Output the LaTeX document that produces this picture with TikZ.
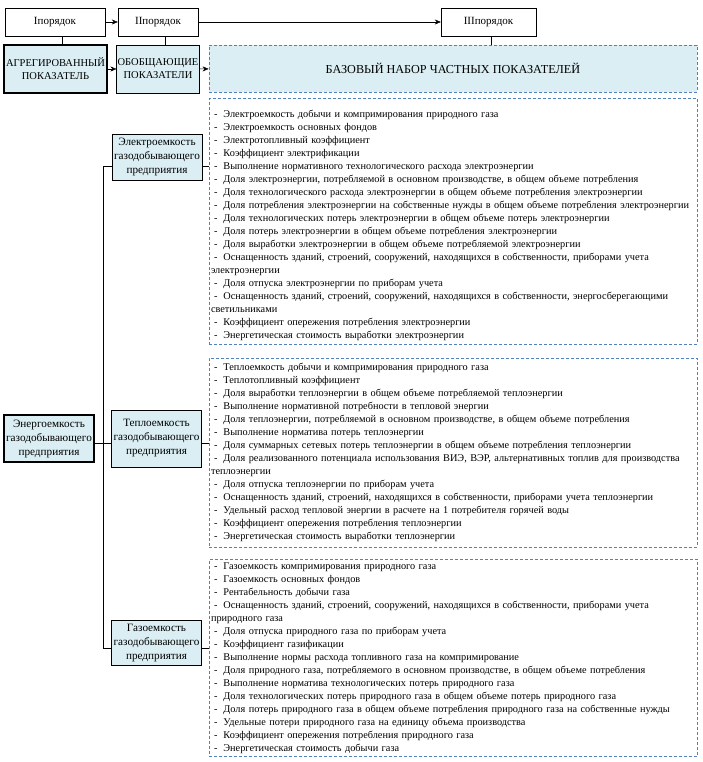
\documentclass[tikz,border=0pt]{standalone}
\usepackage{fontspec}
\setmainfont{Liberation Serif}
\usepackage{tikz}
\usetikzlibrary{arrows.meta,positioning}
\definecolor{boxfill}{HTML}{DAEEF3}
\definecolor{dashblue}{HTML}{4F81BD}
\newcommand{\itm}[1]{\leavevmode\rlap{\hspace*{3pt}-\hspace*{6pt}#1}}
\newcommand{\cont}[1]{\leavevmode\rlap{#1}}
\tikzset{
>={Stealth[length=6pt,width=5pt]}, % arrow heads
orderbox/.style={draw, minimum height=28, inner sep=1pt, font=\fontsize{11}{13}\selectfont},
levelbox/.style={draw, fill=boxfill, minimum height=48, inner sep=1pt, align=center, font=\fontsize{10.5}{13}\selectfont},
catbox/.style={draw, fill=boxfill, minimum width=90, inner sep=1pt, align=center, font=\fontsize{11.2}{14}\selectfont},
dashbox/.style={draw=dashblue, dash pattern=on 3pt off 2pt, line width=0.8pt, minimum width=488},
listbox/.style={dashbox, inner xsep=2pt, text width=484, align=left, font=\fontsize{10.3}{13}\selectfont}
}
\begin{document}
\begin{tikzpicture}[x=1pt,y=-1pt]
    \useasboundingbox (0,0) rectangle (703,762);
    % orders
    \node[orderbox, minimum width=100] (ord1) at (55,22) {Iпорядок};
    \node[orderbox, minimum width=80] (ord2) at (158,22) {IIпорядок};
    \node[orderbox, minimum width=95] (ord3) at (488.5,22) {IIIпорядок};
    \node[levelbox, minimum width=103, line width=2.2pt] (agg) at (55.5,69) {АГРЕГИРОВАННЫЙ\\ПОКАЗАТЕЛЬ};
    \node[levelbox, minimum width=80] (gen) at (158,69) {ОБОБЩАЮЩИЕ\\ПОКАЗАТЕЛИ};
    \node[dashbox, fill=boxfill, minimum height=47, font=\fontsize{12.2}{15}\selectfont] (base) at (453,68.5) {БАЗОВЫЙ НАБОР ЧАСТНЫХ ПОКАЗАТЕЛЕЙ};
    \draw[->] (ord1) -- (ord2);
    \draw[->] (ord2) -- (ord3);
    \draw[->] (agg) -- (gen);
    \draw[->] (gen) -- (base);
    \draw ([xshift=7]ord1.south) -- ([xshift=7]ord1.south |- agg.north);
    \draw ([xshift=7]ord2.south) -- ([xshift=7]ord2.south |- gen.north);
    \draw ([xshift=3]ord3.south) -- ([xshift=3]ord3.south |- base.north);
    % indicators
    \node[catbox, line width=2.2pt, minimum width=90, minimum height=47] (energy) at (49,438.5) {Энергоемкость\\газодобывающего\\предприятия};
    \node[catbox, minimum height=46] (elec) at (157,157) {Электроемкость\\газодобывающего\\предприятия};
    \node[catbox, minimum height=57] (heat) at (156.5,438.5) {Теплоемкость\\газодобывающего\\предприятия};
    \node[catbox, minimum height=45] (gas) at (156.5,643) {Газоемкость\\газодобывающего\\предприятия};
    % lists
    \node[listbox, minimum height=245] (elist) at (453,221.5) {%
    \mbox{}\\[3pt]
    \itm{Электроемкость добычи и компримирования природного газа}\\
    \itm{Электроемкость основных фондов}\\
    \itm{Электротопливный коэффициент}\\
    \itm{Коэффициент электрификации}\\
    \itm{Выполнение нормативного технологического расхода электроэнергии}\\
    \itm{Доля электроэнергии, потребляемой в основном производстве, в общем объеме потребления}\\
    \itm{Доля технологического расхода электроэнергии в общем объеме потребления электроэнергии}\\
    \itm{Доля потребления электроэнергии на собственные нужды в общем объеме потребления электроэнергии}\\
    \itm{Доля технологических потерь электроэнергии в общем объеме потерь электроэнергии}\\
    \itm{Доля потерь электроэнергии в общем объеме потребления электроэнергии}\\
    \itm{Доля выработки электроэнергии в общем объеме потребляемой электроэнергии}\\
    \itm{Оснащенность зданий, строений, сооружений, находящихся в собственности, приборами учета}\\
    \cont{электроэнергии}\\
    \itm{Доля отпуска электроэнергии по приборам учета}\\
    \itm{Оснащенность зданий, строений, сооружений, находящихся в собственности, энергосберегающими}\\
    \cont{светильниками}\\
    \itm{Коэффициент опережения потребления электроэнергии}\\
    \itm{Энергетическая стоимость выработки электроэнергии}};
    \node[listbox, minimum height=189] (hlist) at (453,452.5) {%
    \itm{Теплоемкость добычи и компримирования природного газа}\\
    \itm{Теплотопливный коэффициент}\\
    \itm{Доля выработки теплоэнергии в общем объеме потребляемой теплоэнергии}\\
    \itm{Выполнение нормативной потребности в тепловой энергии}\\
    \itm{Доля теплоэнергии, потребляемой в основном производстве, в общем объеме потребления}\\
    \itm{Выполнение норматива потерь теплоэнергии}\\
    \itm{Доля суммарных сетевых потерь теплоэнергии в общем объеме потребления теплоэнергии}\\
    \itm{Доля реализованного потенциала использования ВИЭ, ВЭР, альтернативных топлив для производства}\\
    \cont{теплоэнергии}\\
    \itm{Доля отпуска теплоэнергии по приборам учета}\\
    \itm{Оснащенность зданий, строений, находящихся в собственности, приборами учета теплоэнергии}\\
    \itm{Удельный расход тепловой энергии в расчете на 1 потребителя горячей воды}\\
    \itm{Коэффициент опережения потребления теплоэнергии}\\
    \itm{Энергетическая стоимость выработки теплоэнергии}};
    \node[listbox, minimum height=196] (glist) at (453,658) {%
    \itm{Газоемкость компримирования природного газа}\\
    \itm{Газоемкость основных фондов}\\
    \itm{Рентабельность добычи газа}\\
    \itm{Оснащенность зданий, строений, сооружений, находящихся в собственности, приборами учета}\\
    \cont{природного газа}\\
    \itm{Доля отпуска природного газа по приборам учета}\\
    \itm{Коэффициент газификации}\\
    \itm{Выполнение нормы расхода топливного газа на компримирование}\\
    \itm{Доля природного газа, потребляемого в основном производстве, в общем объеме потребления}\\
    \itm{Выполнение норматива технологических потерь природного газа}\\
    \itm{Доля технологических потерь природного газа в общем объеме потерь природного газа}\\
    \itm{Доля потерь природного газа в общем объеме потребления природного газа на собственные нужды}\\
    \itm{Удельные потери природного газа на единицу объема производства}\\
    \itm{Коэффициент опережения потребления природного газа}\\
    \itm{Энергетическая стоимость добычи газа}};
    % connectors
    \coordinate (ejoin) at (103,166);
    \coordinate (hjoin) at (103,443);
    \coordinate (gjoin) at (103,648);
    \draw (elec.west |- ejoin) -- (ejoin) -- (gjoin) -- (gas.west |- gjoin);
    \draw (energy.east |- hjoin) -- (heat.west |- hjoin);
    \draw (elec.east |- ejoin) -- (elist.west |- ejoin);
    \draw (heat.east |- hjoin) -- (hlist.west |- hjoin);
    \draw (gas.east |- gjoin) -- (glist.west |- gjoin);
\end{tikzpicture}
\end{document}
